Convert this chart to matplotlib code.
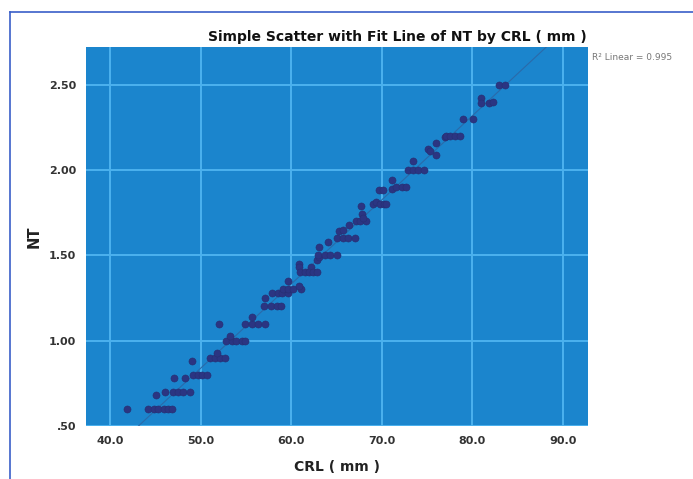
import numpy as np
import matplotlib
matplotlib.use("Agg")
import matplotlib.pyplot as plt
from matplotlib.lines import Line2D

# Data (CRL in mm, NT in mm)
crl = [41.8,
       44.2, 44.8, 45.3, 45.9, 46.4, 46.8,
       45.0,
       46.0, 46.9, 47.5, 48.0, 48.8,
       47.0, 48.3,
       49.1, 49.7, 50.1, 50.7,
       49.0,
       51.0, 51.6, 52.1, 52.7,
       51.8,
       52.8, 53.4, 53.9, 54.5, 54.9,
       53.2, 52.0,
       54.9, 55.6, 56.3, 57.1,
       55.7, 57.1,
       57.0, 57.7, 58.4, 58.9,
       57.9, 58.5, 59.0, 59.6,
       59.6,
       59.1, 59.6, 60.2, 61.1,
       60.9, 60.9, 60.9, 62.2,
       61.0, 61.5, 62.0, 62.4, 62.8,
       62.8, 63.1,
       63.0, 63.7, 64.3, 65.0,
       63.1, 64.1,
       65.0, 65.7, 66.3, 67.0,
       65.3, 65.7, 66.4,
       67.2, 67.6, 68.3,
       67.7, 67.8, 67.9,
       69.0, 69.4, 69.7,
       69.8, 70.2, 70.5,
       70.1, 71.1, 71.1,
       71.6, 72.2, 72.7,
       73.4,
       72.9, 73.4, 74.0, 74.7,
       75.1, 75.3, 76.0, 76.0,
       77.0, 77.1,
       77.5, 78.1, 78.6,
       79.0, 80.1,
       81.0, 81.0, 81.9, 82.3,
       83.0, 83.6]
nt = [0.60,
      0.60, 0.60, 0.60, 0.60, 0.60, 0.60,
      0.68,
      0.70, 0.70, 0.70, 0.70, 0.70,
      0.78, 0.78,
      0.80, 0.80, 0.80, 0.80,
      0.88,
      0.90, 0.90, 0.90, 0.90,
      0.93,
      1.00, 1.00, 1.00, 1.00, 1.00,
      1.03, 1.10,
      1.10, 1.10, 1.10, 1.10,
      1.14, 1.25,
      1.20, 1.20, 1.20, 1.20,
      1.28, 1.28, 1.28, 1.28,
      1.35,
      1.30, 1.30, 1.30, 1.30,
      1.32, 1.45, 1.43, 1.43,
      1.40, 1.40, 1.40, 1.40, 1.40,
      1.47, 1.49,
      1.50, 1.50, 1.50, 1.50,
      1.55, 1.58,
      1.60, 1.60, 1.60, 1.60,
      1.64, 1.65, 1.68,
      1.70, 1.70, 1.70,
      1.79, 1.74, 1.72,
      1.80, 1.81, 1.88,
      1.80, 1.80, 1.80,
      1.88, 1.89, 1.94,
      1.90, 1.90, 1.90,
      2.05,
      2.00, 2.00, 2.00, 2.00,
      2.12, 2.11, 2.09, 2.16,
      2.19, 2.20,
      2.20, 2.20, 2.20,
      2.30, 2.30,
      2.42, 2.39, 2.39, 2.40,
      2.50, 2.50]

x_ticks = [40, 50, 60, 70, 80, 90]
x_tick_labels = ["40.0", "50.0", "60.0", "70.0", "80.0", "90.0"]
y_ticks = [0.5, 1.0, 1.5, 2.0, 2.5]
y_tick_labels = [".50", "1.00", "1.50", "2.00", "2.50"]
r2_text = "R\u00b2 Linear = 0.995"

fig = plt.figure(figsize=(6.93, 4.79), dpi=100)
fig.patch.set_facecolor("white")
ax = fig.add_axes([86/693, 1-426/479, 502/693, 379/479])
ax.set_facecolor("#1b85cd")

ax.set_xlim(37.3, 92.8)
ax.set_ylim(0.5, 2.72)
ax.set_xticks(x_ticks)
ax.set_xticklabels(x_tick_labels)
ax.set_yticks(y_ticks)
ax.set_yticklabels(y_tick_labels)
ax.grid(True, color="#4cb2ee", linewidth=1.4, zorder=1)
ax.set_axisbelow(True)
ax.tick_params(length=0, labelsize=8, labelcolor="#333333", pad=7)
for lab in ax.get_xticklabels() + ax.get_yticklabels():
    lab.set_fontweight("bold")
for s in ax.spines.values():
    s.set_visible(False)

# fit line
coef = np.polyfit(crl, nt, 1)
xl = np.array([30, 100])
ax.plot(xl, np.polyval(coef, xl), color="#2a6aaa", linewidth=0.8, zorder=2)

ax.scatter(crl, nt, s=26, color="#2b3582", edgecolors="#262f72", linewidths=0.4, zorder=3)

ax.set_title("Simple Scatter with Fit Line of NT by CRL ( mm )", fontsize=10,
             fontweight="bold", color="#111111", pad=4, x=0.62)
ax.set_xlabel("CRL ( mm )", fontsize=10, fontweight="bold", color="#222222", labelpad=10)
ax.set_ylabel("NT", fontsize=10.5, fontweight="bold", color="#222222", labelpad=5)

fig.text(592/693, 1-57/479, r2_text, fontsize=6.5, color="#777777", va="center", ha="left")

# outer frame (top and left edges)
fig.add_artist(Line2D([10/693, 10/693], [0, 1-12/479], transform=fig.transFigure,
                      color="#3a5fc8", linewidth=1.2))
fig.add_artist(Line2D([10/693, 1], [1-12/479, 1-12/479], transform=fig.transFigure,
                      color="#3a5fc8", linewidth=1.2))

fig.savefig("out.png", dpi=100)
